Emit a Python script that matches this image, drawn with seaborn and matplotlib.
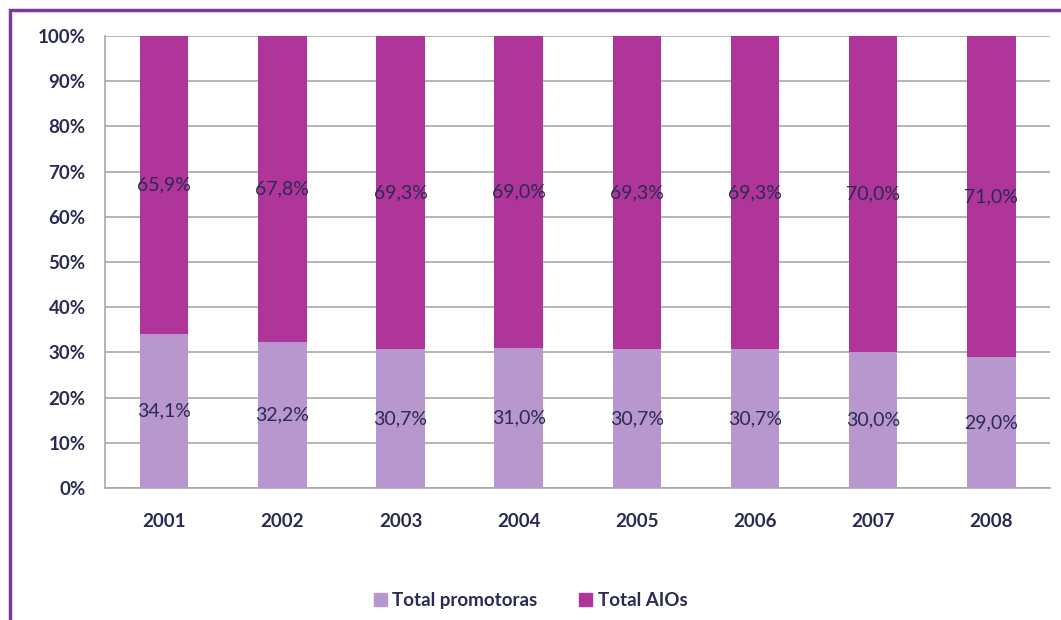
import numpy as np
import seaborn as sns
import matplotlib.pyplot as plt
import pandas as pd
from matplotlib.patches import Patch, Rectangle

# data
years = ["2001", "2002", "2003", "2004", "2005", "2006", "2007", "2008"]
promotoras = [34.1, 32.2, 30.7, 31.0, 30.7, 30.7, 30.0, 29.0]
aios = [65.9, 67.8, 69.3, 69.0, 69.3, 69.3, 70.0, 71.0]
series_names = ["Total promotoras", "Total AIOs"]

col_promo = "#b897cf"
col_aio = "#b0359b"
txt_col = "#2a2a52"

sns.set_style("white")
plt.rcParams["font.family"] = ["Lato", "DejaVu Sans"]

df = pd.DataFrame({"year": years, "promo": promotoras, "aio": aios})
df["total"] = df["promo"] + df["aio"]

fig = plt.figure(figsize=(10.61, 6.2), dpi=100)
ax = fig.add_axes([0.099, 0.213, 0.891, 0.729])

# stacked bars: full height first, then the lower segment on top
sns.barplot(data=df, x="year", y="total", color=col_aio, width=0.41,
            saturation=1, linewidth=0, ax=ax, zorder=3)
sns.barplot(data=df, x="year", y="promo", color=col_promo, width=0.41,
            saturation=1, linewidth=0, ax=ax, zorder=3)

for i, (p, a) in enumerate(zip(promotoras, aios)):
    ax.text(i, p / 2, f"{p:.1f}%".replace(".", ","), ha="center", va="center",
            fontsize=14, color=txt_col, zorder=5)
    ax.text(i, p + a / 2, f"{a:.1f}%".replace(".", ","), ha="center", va="center",
            fontsize=14, color=txt_col, zorder=5)

ax.set_xlim(-0.5, 7.5)
ax.set_ylim(0, 100)
ax.set_yticks(np.arange(0, 101, 10))
ax.set_yticklabels([f"{v}%" for v in range(0, 101, 10)])
ax.set_xlabel("")
ax.set_ylabel("")

ax.grid(axis="y", color="#a8a8a8", linewidth=1.2, zorder=0)
ax.set_axisbelow(True)
for s in ["top", "right"]:
    ax.spines[s].set_visible(False)
for s in ["left", "bottom"]:
    ax.spines[s].set_color("#a8a8a8")
    ax.spines[s].set_linewidth(1.2)

ax.set_xticks(np.arange(-0.5, 8, 1), minor=True)
ax.tick_params(axis="x", which="major", length=0, pad=18, labelsize=13.5,
               labelcolor=txt_col)
ax.tick_params(axis="x", which="minor", length=7, color="#a8a8a8", width=1.2)
ax.tick_params(axis="y", length=8, color="#a8a8a8", width=1.2, labelsize=13.5,
               labelcolor=txt_col, pad=6)
for lbl in ax.get_xticklabels() + ax.get_yticklabels():
    lbl.set_fontweight("bold")

handles = [Patch(color=col_promo), Patch(color=col_aio)]
fig.legend(handles, series_names, loc="center", bbox_to_anchor=(0.5, 0.032),
           ncol=2, frameon=False, handlelength=0.7, handleheight=0.7,
           handletextpad=0.3, columnspacing=2.2,
           prop={"size": 13.5, "weight": "bold"}, labelcolor=txt_col)

# purple frame around the chart (cut off at right and bottom)
fig.patches.append(Rectangle((0.0094, -0.05), 1.1, 1.05 - 10 / 620,
                             transform=fig.transFigure, fill=False,
                             edgecolor="#7d3a98", linewidth=2.5))

fig.savefig("out.png", dpi=100)
